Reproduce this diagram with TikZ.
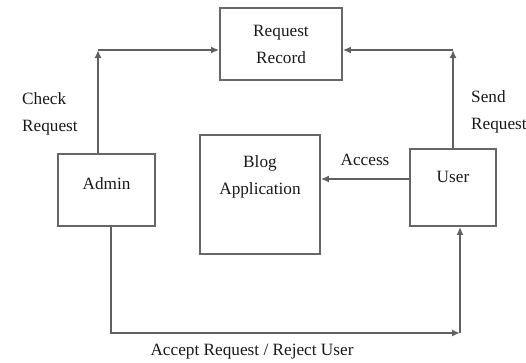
\documentclass[tikz,border=0pt]{standalone}
\usepackage{fontspec}
\setmainfont{Liberation Serif}
\usetikzlibrary{arrows.meta}
\begin{document}
\begin{tikzpicture}[x=1bp,y=-1bp,
    box/.style={draw=gray!80!black,line width=1.7bp,inner sep=0pt,align=center,text=black!90,font=\fontsize{17.3}{27}\selectfont},
    flow/.style={draw=gray!75!black,line width=1.8bp,-{Latex[length=8bp,width=7bp]}},
    lbl/.style={text=black!90,align=left,inner sep=0pt,font=\fontsize{17.3}{27}\selectfont}]
\useasboundingbox (0,0) rectangle (526,362);

%Cajas
\node[box,minimum width=122bp,minimum height=72bp] (rec) at (281,44) {Request\\Record};
\node[box,minimum width=97bp,minimum height=72bp,
    label={[lbl,yshift=6bp]center:Admin}] (admin) at (106.5,190) {};
\node[box,minimum width=120bp,minimum height=119bp,
    label={[lbl,align=center,anchor=north,yshift=-21bp]north:{Blog\\Application}}] (blog) at (260,194.5) {};
\node[box,minimum width=86bp,minimum height=77bp,
    label={[lbl,yshift=11bp]center:User}] (user) at (453,187.5) {};

%Esquinas
\coordinate (c1) at ([xshift=-8.5bp]admin.north |- 0,50);
\coordinate (c2) at (user.north |- 0,50);
\coordinate (c3) at ([xshift=4.5bp]admin.south |- 0,333);
\coordinate (c4) at (460,333);
\coordinate (a0) at ([yshift=8.5bp]user.west);

%Flechas
\draw[flow] ([xshift=-8.5bp]admin.north) -- (c1);
\draw[flow] (c1) -- (rec.west |- c1);
\draw[flow] (user.north) -- (c2);
\draw[flow] (c2) -- (rec.east |- c2);
\draw[flow] (a0) -- (blog.east |- a0) node[lbl,midway,above=12bp]{Access};
\draw[flow] ([xshift=4.5bp]admin.south) -- (c3) -- (c4);
\draw[flow] (c4) -- (c4 |- user.south);

%Etiquetas
\node[lbl,anchor=west] (chk) at (22,113.5) {Check\\Request};
\node[lbl,anchor=west] (snd) at (471,111.5) {Send\\Request};
\node[lbl] (acc) at (252,352) {Accept Request / Reject User};
\end{tikzpicture}
\end{document}
